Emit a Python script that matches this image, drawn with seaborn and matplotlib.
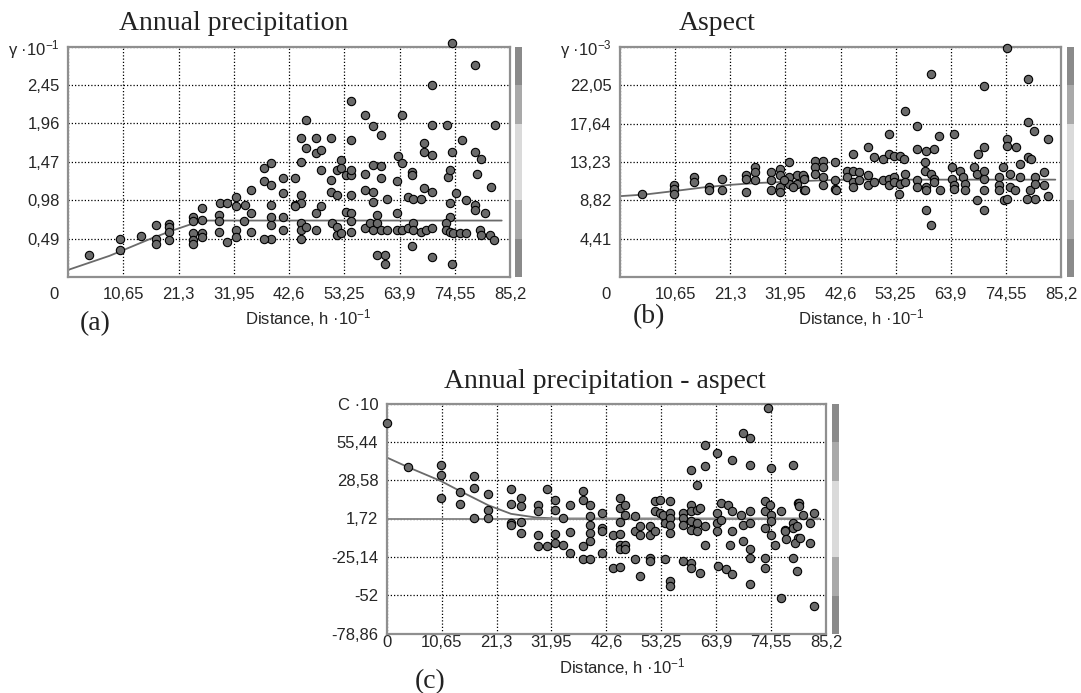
import numpy as np
import pandas as pd
import seaborn as sns
import matplotlib.pyplot as plt
from matplotlib.transforms import ScaledTranslation

sns.set_style("white")
plt.rcParams['font.family'] = ['Liberation Sans', 'DejaVu Sans']
plt.rcParams['mathtext.fontset'] = 'custom'
plt.rcParams['mathtext.rm'] = 'Liberation Sans'

# ---- axes ticks / labels ----
dist_ticks = [0, 10.65, 21.3, 31.95, 42.6, 53.25, 63.9, 74.55, 85.2]
dist_labels = ['0', '10,65', '21,3', '31,95', '42,6', '53,25', '63,9', '74,55', '85,2']

a_ticks = [0.49, 0.98, 1.47, 1.96, 2.45, 2.94]
a_labels = ['0,49', '0,98', '1,47', '1,96', '2,45', r'γ ·$\mathregular{10^{-1}}$']
b_ticks = [4.41, 8.82, 13.23, 17.64, 22.05, 26.46]
b_labels = ['4,41', '8,82', '13,23', '17,64', '22,05', r'γ ·$\mathregular{10^{-3}}$']
c_ticks = [-78.86, -52, -25.14, 1.72, 28.58, 55.44, 82.3]
c_labels = ['-78,86', '-52', '-25,14', '1,72', '28,58', '55,44', 'C ·10']

# ---- (a) annual precipitation semivariogram ----
a_dist = [4.1, 10.1, 10.1, 14.0, 17.0, 17.0, 17.0, 19.5, 19.5, 19.5, 19.5,
          24.0, 24.0, 24.0, 24.0, 24.0, 25.9, 25.9, 25.9, 25.9, 29.2, 29.2, 29.2,
          30.7, 29.3, 30.6, 32.4, 32.4, 32.4, 32.4, 34.1, 35.3, 35.3, 35.3, 34.0,
          37.8, 39.1, 37.8, 39.1, 39.1, 39.1, 39.1, 39.1, 37.8, 41.4, 41.4, 41.4,
          41.4, 43.7, 43.7,
          74.1, 78.4, 70.1, 54.5, 57.2, 64.3, 45.9, 58.8, 70.1, 73.0, 82.3, 60.4,
          44.9, 47.8, 50.7, 54.5, 76.0, 45.9, 47.8, 48.7, 68.7, 68.7, 70.1, 74.1,
          78.4, 79.7, 63.6, 64.3, 44.9, 52.6, 48.7, 51.8, 52.6, 53.6, 54.5, 54.5,
          57.2, 58.8, 60.4, 60.4, 66.4, 66.4, 73.2, 73.6, 78.9, 81.6, 50.7, 63.5,
          68.7, 70.1,
          44.9, 44.9, 43.7, 50.7, 51.8, 54.5, 57.2, 58.8, 58.8, 61.5, 63.5, 65.6,
          66.5, 68.1, 74.8, 76.8, 78.4, 78.4, 80.3, 73.6, 73.6, 48.7, 47.8, 53.6,
          54.5, 59.6,
          44.9, 44.9, 44.9, 45.9, 47.8, 50.8, 51.8, 51.8, 52.7, 54.5, 54.5, 57.2,
          58.2, 58.8, 59.6, 60.4, 61.5, 63.5, 64.3, 65.6, 66.5, 66.5, 68.1, 69.1,
          70.1, 72.8, 72.8, 73.6, 74.3, 75.6, 76.8, 79.4, 79.7, 81.3, 82.2,
          59.6, 61.2, 61.2, 66.4, 70.1, 74.1]
a_gamma = [0.28, 0.48, 0.34, 0.52, 0.66, 0.48, 0.42, 0.68, 0.64, 0.57, 0.47,
           0.77, 0.71, 0.56, 0.47, 0.42, 0.88, 0.73, 0.56, 0.51, 0.79, 0.71, 0.58,
           0.45, 0.94, 0.94, 1.02, 0.90, 0.60, 0.51, 0.92, 1.11, 0.81, 0.58, 0.71,
           1.39, 1.45, 1.22, 1.17, 0.92, 0.77, 0.66, 0.49, 0.49, 1.26, 1.07, 0.77,
           0.60, 1.26, 0.92,
           2.98, 2.71, 2.45, 2.24, 2.07, 2.07, 2.00, 1.92, 1.94, 1.94, 1.94, 1.81,
           1.77, 1.77, 1.77, 1.75, 1.75, 1.64, 1.58, 1.62, 1.71, 1.60, 1.56, 1.60,
           1.60, 1.51, 1.54, 1.45, 1.47, 1.49, 1.37, 1.37, 1.39, 1.30, 1.30, 1.37,
           1.32, 1.43, 1.41, 1.26, 1.34, 1.30, 1.28, 1.37, 1.32, 1.15, 1.24, 1.22,
           1.13, 1.09,
           1.05, 0.94, 0.90, 1.09, 1.05, 1.05, 1.11, 1.09, 0.96, 1.00, 0.81, 1.02,
           1.00, 1.00, 1.07, 0.98, 0.92, 0.85, 0.81, 0.94, 0.77, 0.90, 0.81, 0.83,
           0.81, 0.79,
           0.69, 0.60, 0.49, 0.64, 0.60, 0.69, 0.64, 0.54, 0.56, 0.71, 0.58, 0.62,
           0.69, 0.60, 0.69, 0.60, 0.60, 0.60, 0.60, 0.62, 0.69, 0.60, 0.58, 0.60,
           0.62, 0.69, 0.60, 0.58, 0.56, 0.56, 0.56, 0.60, 0.54, 0.54, 0.47,
           0.28, 0.28, 0.17, 0.39, 0.26, 0.17]
a_model_x = [0, 4, 8, 12, 16, 20, 24, 27, 83.6]
a_model_y = [0.09, 0.18, 0.27, 0.38, 0.49, 0.59, 0.68, 0.72, 0.72]

# ---- (b) aspect semivariogram ----
b_dist = [4.2, 10.5, 10.5, 10.5, 14.2, 14.2, 17.1, 17.1, 19.7, 19.7, 24.3, 24.3,
          24.3, 26.1, 26.1, 26.1, 29.2, 29.2, 29.2, 30.9, 30.9, 30.9, 30.9, 32.6,
          32.6, 32.6, 34.2, 34.2, 35.6, 35.6, 31.6, 33.5,
          74.8, 60.1, 78.8, 70.3, 55.0, 78.8, 80.0, 57.4, 51.9, 61.7, 64.6, 82.6,
          74.8, 74.8, 76.6, 48.0, 57.4, 59.1, 60.7, 70.3, 69.2, 45.1, 49.1, 50.9,
          51.9, 52.9, 54.0, 54.9, 73.9, 78.8, 79.4, 77.2, 81.9,
          37.7, 39.3, 41.6, 35.3, 35.5, 37.7, 37.7, 39.3, 39.3, 39.3, 41.6, 41.6,
          43.9, 45.1, 46.1, 43.9, 45.1, 46.1, 45.1, 48.0, 48.0, 49.0, 50.9, 51.9,
          51.9, 52.9, 52.9, 54.0, 55.0, 55.0, 53.9, 57.4, 57.4, 59.0, 59.0, 59.1,
          59.1, 60.1, 60.6, 60.6, 61.8, 64.2, 64.2, 64.5, 64.6, 65.6, 66.3, 66.7,
          66.7, 68.3, 69.0, 70.3, 70.3, 70.3, 69.0, 70.3, 73.3, 73.3, 73.3, 74.2,
          74.8, 75.3, 75.3, 76.4, 77.2, 79.3, 80.2, 80.2, 80.2, 82.0, 82.6, 78.7,
          59.1, 60.1, 35.7, 41.8]
b_gamma = [9.58, 10.53, 10.15, 9.58, 11.48, 10.91, 10.34, 9.96, 11.30, 9.96, 11.68,
           11.30, 9.77, 12.63, 12.06, 11.11, 12.06, 11.11, 9.96, 12.44, 11.68, 10.34,
           9.77, 13.20, 11.48, 10.72, 11.68, 10.72, 11.48, 9.96, 11.11, 10.34,
           26.37, 23.32, 22.75, 21.98, 19.12, 17.78, 16.83, 17.40, 16.45, 16.26,
           16.45, 15.88, 15.88, 15.11, 14.92, 14.92, 14.74, 14.55, 14.74, 14.92,
           14.16, 14.16, 13.77, 13.59, 14.16, 13.97, 13.87, 13.59, 12.63, 13.77,
           13.59, 13.02, 12.06,
           13.40, 13.40, 13.20, 11.68, 11.30, 12.63, 11.87, 12.63, 11.48, 10.53,
           11.11, 10.15, 12.25, 12.25, 12.06, 11.48, 10.91, 11.11, 10.34, 11.68,
           10.53, 10.91, 11.11, 11.30, 10.53, 11.48, 10.91, 10.72, 11.87, 10.91,
           9.58, 11.11, 10.34, 13.20, 12.25, 10.34, 9.96, 11.87, 11.30, 10.91,
           9.96, 12.63, 11.30, 10.53, 10.15, 12.25, 11.48, 10.72, 9.96, 12.63,
           11.87, 12.25, 11.30, 9.96, 8.82, 7.67, 11.48, 10.53, 9.96, 8.82, 9.01,
           11.87, 10.34, 9.96, 11.48, 9.96, 11.48, 10.72, 9.01, 10.53, 9.27, 9.01,
           7.67, 5.95, 9.96, 9.96]
b_model_x = [0, 5, 10.65, 16, 21.3, 26, 32, 38, 44, 84.1]
b_model_y = [9.3, 9.5, 9.9, 10.3, 10.6, 10.8, 10.95, 11.1, 11.2, 11.2]

# ---- (c) cross-covariance precipitation - aspect ----
c_dist = [0.0, 4.2, 10.5, 10.5, 10.5, 14.2, 14.2, 17.0, 17.0, 17.0, 19.7, 19.7,
          19.7, 24.1, 24.1, 24.1, 24.1, 26.0, 26.0, 26.0, 26.0, 29.4, 29.4, 29.4,
          29.4, 31.0, 31.0, 32.6, 32.6, 32.6, 32.6, 34.2, 34.2,
          35.6, 35.6, 35.6, 38.1, 38.1, 38.1, 38.1, 39.4, 39.5, 39.5, 39.5, 39.5,
          39.5, 41.7, 41.7, 41.7, 41.7, 43.8, 43.8, 45.2, 45.2, 45.2, 45.2, 45.2,
          45.2, 45.2, 46.2, 46.2, 46.2, 46.2, 48.1, 48.1, 48.1, 49.1, 49.1, 49.1,
          51.0, 51.0, 51.0, 51.0, 52.0, 52.0, 52.0, 53.0, 53.0, 53.6, 53.9, 54.9,
          54.9, 54.9, 54.9, 54.9, 53.9, 54.9, 54.9,
          57.5, 57.5, 57.5, 57.5, 59.1, 59.1, 59.1, 59.1, 59.1, 59.1, 59.1, 60.1,
          60.1, 60.1, 60.1, 60.7, 61.7, 61.7, 61.7, 61.7, 60.7,
          64.0, 64.0, 64.0, 64.0, 64.3, 64.9, 64.9, 65.9, 66.2, 66.9, 66.9, 66.9,
          66.5, 66.9, 68.8, 69.1, 69.1, 69.1, 70.4, 70.4, 70.4, 70.4, 70.4, 70.4,
          70.4, 73.3, 73.3, 73.3, 73.3, 73.3, 74.0, 74.3, 74.6, 74.6, 74.6, 74.6,
          75.3, 76.5, 76.5, 77.2, 78.8, 78.8, 78.8, 79.5, 79.8, 79.8,
          77.2, 77.4, 78.8, 79.1, 79.5, 80.0, 80.0, 80.1, 80.7, 82.0, 82.0, 82.8,
          82.8]
c_cov = [68.7, 37.6, 39.5, 32.5, 16.2, 20.1, 12.2, 31.8, 23.2, 2.2, 19.2, 8.0,
         2.2, 22.7, 12.2, -1.3, -3.0, 16.2, 10.3, -0.6, -8.3, 11.5, 6.8, -10.0,
         -17.7, 22.7, -17.7, 15.0, 8.0, -8.8, -15.3, 2.2, -16.5,
         11.5, -7.6, -22.8, 20.8, 15.0, -17.2, -27.0, -27.0, 11.5, 3.3, -2.5, -8.3,
         -14.2, 5.7, -4.8, -7.2, -22.8, -9.5, -32.8, 16.2, 9.2, -0.9, -8.8, -16.5,
         -20.0, -32.1, 11.5, 4.5, -16.5, -20.0, 3.3, -7.2, -27.0, -3.7, -9.5, -38.6,
         -3.7, -9.5, -25.8, -28.2, -7.2, 13.8, 6.8, 15.0, 5.7, 4.5, -1.3, 13.8,
         5.7, 2.2, -2.5, -8.3, -27.0, -42.2, -45.7,
         5.7, 2.2, -2.5, -28.2, 36.0, 11.5, 6.8, -0.2, -6.0, -29.3, -32.8, 25.5,
         8.0, -1.3, -7.2, -36.3, 53.5, 38.3, -3.7, -16.5, 9.2,
         47.7, 5.7, -1.3, -7.2, -31.6, 12.7, 1.0, -34.0, 11.5, 43.0, 6.8, -7.2,
         -16.5, -37.5, 4.5, 61.7, -2.5, -14.2, 58.2, 39.5, 6.8, -1.3, -20.0, -25.8,
         -44.5, 13.8, 6.8, -4.8, -25.8, -32.8, 79.2, 11.5, 37.2, 4.5, -0.2, -9.5,
         -16.5, 6.8, -53.8, -6.0, 39.5, -1.3, -25.8, -35.2, 12.7, -11.8,
         -7.2, -12.9, -4.8, -15.3, -3.7, 12.7, 10.3, -11.8, 4.5, -1.3, -15.3, 5.7,
         -59.6]
c_model_x = [0, 4.2, 10.5, 14.2, 19.7, 24.1, 29, 33, 84]
c_model_y = [44.5, 37.6, 28.0, 21.0, 11.0, 5.0, 2.4, 1.72, 1.72]
c_sill = 1.72

# ---- style ----
W, H = 1081, 693
fig = plt.figure(figsize=(W / 100, H / 100), dpi=100)

def px_rect(x0, y0, x1, y1):
    return [x0 / W, 1 - y1 / H, (x1 - x0) / W, (y1 - y0) / H]

strip_cols = ['#8a8a8a', '#a9a9a9', '#dadada', '#dadada', '#a9a9a9', '#8a8a8a']

def strip(x0, y0, x1, y1):
    sa = fig.add_axes(px_rect(x0, y0, x1, y1))
    sa.bar([0] * 6, [1] * 6, bottom=range(6), width=1, color=strip_cols, edgecolor='none')
    sa.set_xlim(-0.5, 0.5)
    sa.set_ylim(0, 6)
    sa.axis('off')

def panel(rect, xs, ys, mx, my, yticks, ylabels, ylim, shift_zero=True, xpad=7):
    ax = fig.add_axes(rect)
    df = pd.DataFrame({'dist': xs, 'val': ys})
    ax.plot(mx, my, color='#6a6a6a', lw=1.3, zorder=2)
    sns.scatterplot(data=df, x='dist', y='val', ax=ax, s=36, color='#6a6a6a',
                    edgecolor='black', linewidth=0.8, clip_on=False, zorder=3,
                    legend=False)
    ax.set_xlim(0, 85.2)
    ax.set_ylim(*ylim)
    ax.set_xticks(dist_ticks)
    ax.set_xticklabels(dist_labels, fontsize=12)
    ax.set_yticks(yticks)
    ax.set_yticklabels(ylabels, fontsize=12)
    ax.tick_params(length=0, pad=6)
    ax.tick_params(axis='x', pad=xpad)
    ax.grid(True, color='black', linestyle=(0, (1, 1.6)), linewidth=0.9)
    ax.set_axisbelow(True)
    for sp in ax.spines.values():
        sp.set_color('#8f8f8f')
        sp.set_linewidth(1.6)
    ax.set_xlabel('')
    ax.set_ylabel('')
    if shift_zero:
        lab = ax.get_xticklabels()[0]
        lab.set_transform(lab.get_transform() + ScaledTranslation(-10 / 72, 0, fig.dpi_scale_trans))
    return ax

ax_a = panel(px_rect(68, 46.5, 510, 277), a_dist, a_gamma, a_model_x, a_model_y,
             a_ticks, a_labels, (0, 2.94))
strip(515, 47, 522, 277)

ax_b = panel(px_rect(620, 47, 1061, 277), b_dist, b_gamma, b_model_x, b_model_y,
             b_ticks, b_labels, (0, 26.46))
strip(1067, 47, 1074, 277)

ax_c = panel(px_rect(386.7, 403.5, 826, 633.5), c_dist, c_cov, c_model_x, c_model_y,
             c_ticks, c_labels, (-78.86, 82.3), shift_zero=False, xpad=1)
ax_c.hlines(c_sill, 0, 84, color='#8a8a8a', lw=1.4, zorder=2)
strip(832, 404, 839, 634)

def ftext(x, y, s, **kw):
    fig.text(x / W, 1 - y / H, s, ha='center', va='center', **kw)

serif = ['Liberation Serif', 'DejaVu Serif']
ftext(234, 24, 'Annual precipitation', family=serif, fontsize=20, color='#222222')
ftext(717, 24, 'Aspect', family=serif, fontsize=20, color='#222222')
ftext(605, 382, 'Annual precipitation - aspect', family=serif, fontsize=20, color='#222222')

ftext(95, 324, '(a)', family=serif, fontsize=20, color='#222222')
ftext(649, 317, '(b)', family=serif, fontsize=20, color='#222222')
ftext(430, 682, '(c)', family=serif, fontsize=20, color='#222222')

dist_text = r'Distance, h ·$\mathregular{10^{-1}}$'
ftext(308, 318, dist_text, fontsize=12)
ftext(861, 318, dist_text, fontsize=12)
ftext(622, 667, dist_text, fontsize=12)

fig.savefig('out.png', dpi=100)
